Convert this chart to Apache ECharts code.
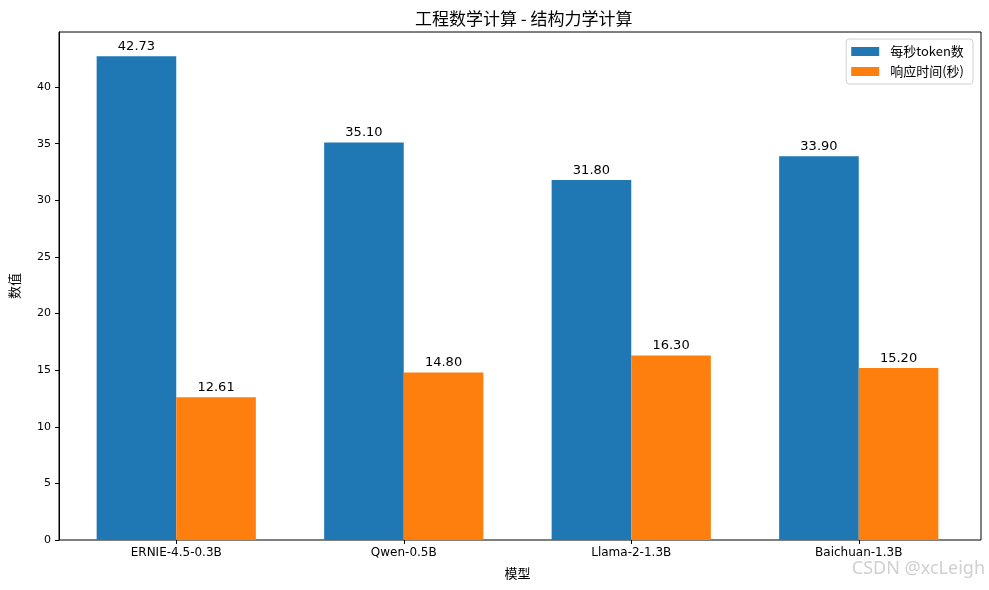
<!DOCTYPE html>
<html>
<head>
<meta charset="utf-8">
<script src="https://cdn.jsdelivr.net/npm/echarts@6/dist/echarts.min.js"></script>
<style>
  html, body { margin: 0; padding: 0; background: #fff; }
  #chart { width: 989px; height: 590px; }
</style>
</head>
<body>
<div id="chart"></div>
<script>
var models = ['ERNIE-4.5-0.3B', 'Qwen-0.5B', 'Llama-2-1.3B', 'Baichuan-1.3B'];
var tokensPerSec = [42.73, 35.10, 31.80, 33.90];
var responseTime = [12.61, 14.80, 16.30, 15.20];
var yTicks = [0, 5, 10, 15, 20, 25, 30, 35, 40];

var font = '"DejaVu Sans", "Noto Sans CJK SC", sans-serif';
var cjk = '"Noto Sans CJK SC", sans-serif';
var yMax = 44.87;

var chart = echarts.init(document.getElementById('chart'));

// grid 0 = full frame with y ticks, grid 1 = category band for the bars
var option = {
  animation: false,
  textStyle: { fontFamily: font },
  title: {
    text: '工程数学计算 - 结构力学计算',
    left: 410, top: 5,
    textStyle: { fontFamily: cjk, fontSize: 17, fontWeight: 'normal', color: '#000' }
  },
  legend: {
    top: 39, right: 16,
    orient: 'vertical',
    icon: 'rect',
    itemWidth: 28, itemHeight: 9, itemGap: 7,
    padding: [6, 9, 6, 5],
    borderColor: '#d0d0d0', borderWidth: 1, borderRadius: 3,
    textStyle: { fontFamily: cjk, fontSize: 13, color: '#000', padding: [0, 0, 0, 6] },
    data: ['每秒token数', '响应时间(秒)']
  },
  grid: [
    { left: 55, right: 8, top: 32, bottom: 50, show: true, borderColor: '#000', borderWidth: 1 },
    { left: 62.5, right: 16.5, top: 32, bottom: 50 }
  ],
  xAxis: [
    { gridIndex: 0, type: 'value', min: 0, max: 1, show: false },
    {
      gridIndex: 1, type: 'category', data: models,
      name: '模型', nameLocation: 'middle', nameGap: 27,
      nameTextStyle: { fontFamily: cjk, fontSize: 13, color: '#000' },
      axisLine: { show: false },
      axisTick: { show: true, alignWithLabel: true, length: 4, lineStyle: { color: '#000' } },
      axisLabel: { fontFamily: font, fontSize: 12, color: '#000', margin: 7 }
    }
  ],
  yAxis: [
    {
      gridIndex: 0, type: 'value', min: 0, max: yMax,
      name: '数值', nameLocation: 'middle', nameGap: 38,
      nameTextStyle: { fontFamily: cjk, fontSize: 13, color: '#000' },
      axisLine: { show: true, lineStyle: { color: '#000' } },
      splitLine: { show: false },
      axisLabel: {
        fontFamily: font, fontSize: 11, color: '#000', margin: 8,
        customValues: yTicks
      },
      axisTick: { show: true, length: 4, lineStyle: { color: '#000' }, customValues: yTicks }
    },
    { gridIndex: 1, type: 'value', min: 0, max: yMax, show: false }
  ],
  series: [
    {
      name: '每秒token数', type: 'bar', xAxisIndex: 1, yAxisIndex: 1,
      data: tokensPerSec, barWidth: 79.6, barGap: '0%',
      itemStyle: { color: '#1f77b4' },
      label: {
        show: true, position: 'top', distance: 3,
        fontFamily: font, fontSize: 13, color: '#000',
        formatter: function (p) { return p.value.toFixed(2); }
      }
    },
    {
      name: '响应时间(秒)', type: 'bar', xAxisIndex: 1, yAxisIndex: 1,
      data: responseTime, barWidth: 79.6, barGap: '0%',
      itemStyle: { color: '#ff7f0e' },
      label: {
        show: true, position: 'top', distance: 3,
        fontFamily: font, fontSize: 13, color: '#000',
        formatter: function (p) { return p.value.toFixed(2); }
      }
    }
  ],
  graphic: [
    {
      type: 'text', right: 4, top: 560,
      style: { text: 'CSDN @xcLeigh', fontFamily: '"Noto Sans", sans-serif', fontSize: 18, fill: '#d0d0d0' }
    }
  ]
};

chart.setOption(option);
</script>
</body>
</html>
